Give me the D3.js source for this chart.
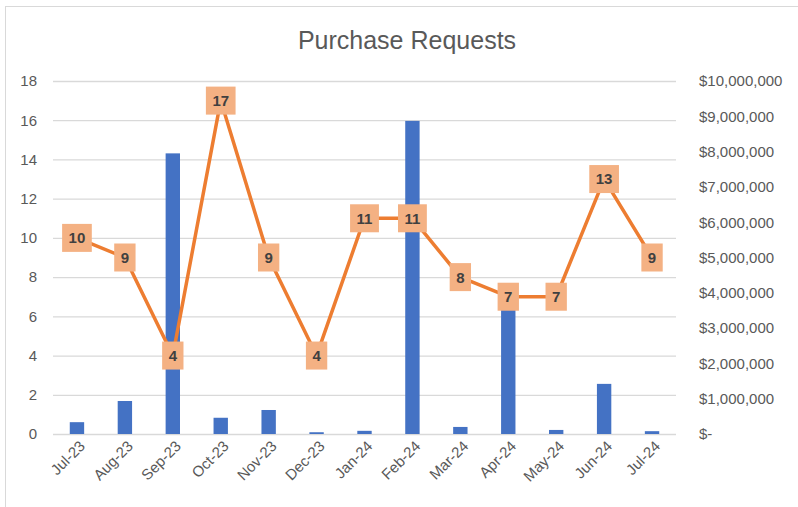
<!DOCTYPE html>
<html>
<head>
<meta charset="utf-8">
<script src="https://cdn.jsdelivr.net/npm/d3@7"></script>
<style>
  html, body { margin: 0; padding: 0; background: #fff; }
  svg { display: block; font-family: 'Liberation Sans', Arial, sans-serif; }
</style>
</head>
<body>
<svg id="chart" width="798" height="507"></svg>
<script>
const months = ['Jul-23', 'Aug-23', 'Sep-23', 'Oct-23', 'Nov-23', 'Dec-23', 'Jan-24',
  'Feb-24', 'Mar-24', 'Apr-24', 'May-24', 'Jun-24', 'Jul-24'];
// purchase request counts (line, left axis)
const requestCounts = [10, 9, 4, 17, 9, 4, 11, 11, 8, 7, 7, 13, 9];
// dollar amounts (bars, right axis)
const dollarAmounts = [335000, 935000, 7950000, 460000, 680000, 50000, 90000,
  8870000, 200000, 3800000, 115000, 1420000, 80000];
const leftTicks = [0, 2, 4, 6, 8, 10, 12, 14, 16, 18];
const rightTicks = [0, 1e6, 2e6, 3e6, 4e6, 5e6, 6e6, 7e6, 8e6, 9e6, 10e6];

const svg = d3.select('#chart');

const plotLeft = 53, plotRight = 676, plotTop = 81, plotBottom = 434;

// chart frame
svg.append('rect')
  .attr('x', 5.5).attr('y', 6.5)
  .attr('width', 810).attr('height', 520)
  .attr('fill', '#fff')
  .attr('stroke', '#d9d9d9');

svg.append('text')
  .attr('x', 407).attr('y', 49)
  .attr('text-anchor', 'middle')
  .attr('fill', '#595959')
  .style('font-size', '25px')
  .text('Purchase Requests');

const x = d3.scaleBand()
  .domain(months)
  .range([plotLeft, plotRight])
  .padding(0);

const yLeft = d3.scaleLinear().domain([0, 18]).range([plotBottom, plotTop]);
const yRight = d3.scaleLinear().domain([0, 10e6]).range([plotBottom, plotTop]);

// gridlines
const grid = svg.append('g')
  .attr('transform', `translate(${plotLeft},0)`)
  .call(d3.axisLeft(yLeft).tickValues(leftTicks).tickSize(-(plotRight - plotLeft)).tickFormat(''));
grid.select('.domain').remove();
grid.selectAll('line').attr('stroke', '#d9d9d9').attr('stroke-width', 1.3);

// left axis
const leftAxis = svg.append('g')
  .attr('transform', `translate(${plotLeft},0)`)
  .call(d3.axisLeft(yLeft).tickValues(leftTicks).tickSize(0).tickPadding(16));
leftAxis.select('.domain').remove();
leftAxis.selectAll('text')
  .attr('fill', '#595959')
  .style('font-size', '15px')
  .style('font-family', "'Liberation Sans', Arial, sans-serif");

// right axis
const fmt = d3.format(',');
const rightAxis = svg.append('g')
  .attr('transform', `translate(${plotRight},0)`)
  .call(d3.axisRight(yRight).tickValues(rightTicks).tickSize(0).tickPadding(23)
    .tickFormat(v => v === 0 ? '$-' : '$' + fmt(v)));
rightAxis.select('.domain').remove();
rightAxis.selectAll('text')
  .attr('fill', '#595959')
  .style('font-size', '15px')
  .style('font-family', "'Liberation Sans', Arial, sans-serif");

// x axis
const xAxis = svg.append('g')
  .attr('transform', `translate(0,${plotBottom})`)
  .call(d3.axisBottom(x).tickSize(0).tickPadding(0));
xAxis.select('.domain').remove();
xAxis.selectAll('text')
  .attr('fill', '#595959')
  .style('font-size', '15px')
  .style('font-family', "'Liberation Sans', Arial, sans-serif")
  .attr('text-anchor', 'end')
  .attr('dy', 0)
  .attr('y', 0)
  .attr('transform', 'translate(9,13) rotate(-45)');

// bars
const barWidth = x.bandwidth() * 0.3;
svg.append('g')
  .selectAll('rect')
  .data(months)
  .join('rect')
  .attr('x', (d) => x(d) + x.bandwidth() / 2 - barWidth / 2)
  .attr('y', (d, i) => yRight(dollarAmounts[i]))
  .attr('width', barWidth)
  .attr('height', (d, i) => plotBottom - yRight(dollarAmounts[i]))
  .attr('fill', '#4472c4');

// line
const line = d3.line()
  .x((d, i) => x(months[i]) + x.bandwidth() / 2)
  .y(d => yLeft(d));

svg.append('path')
  .datum(requestCounts)
  .attr('d', line)
  .attr('fill', 'none')
  .attr('stroke', '#ed7d31')
  .attr('stroke-width', 3.5)
  .attr('stroke-linejoin', 'round');

// data labels
const labels = svg.append('g')
  .selectAll('g')
  .data(requestCounts)
  .join('g')
  .attr('transform', (d, i) => `translate(${x(months[i]) + x.bandwidth() / 2},${yLeft(d)})`);

labels.append('rect').attr('fill', '#f4b183');

labels.append('text')
  .attr('text-anchor', 'middle')
  .attr('dy', '0.36em')
  .attr('fill', '#404040')
  .style('font-size', '15px')
  .style('font-weight', 'bold')
  .text(d => d);

labels.each(function () {
  const g = d3.select(this);
  const w = g.select('text').node().getComputedTextLength() + 13;
  g.select('rect')
    .attr('x', -w / 2).attr('y', -14)
    .attr('width', w).attr('height', 28);
});
</script>
</body>
</html>
